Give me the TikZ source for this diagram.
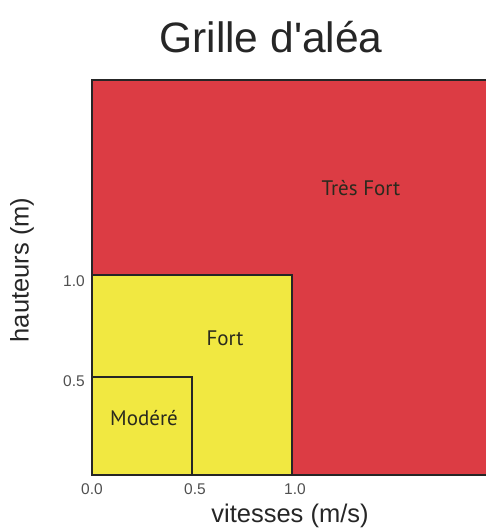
\documentclass[tikz,border=0pt]{standalone}
\usepackage{fontspec}
\setmainfont{Liberation Sans}
\newfontfamily\zonefont{PT Sans}
\definecolor{hazred}{HTML}{DC3C44}
\definecolor{hazyellow}{HTML}{F1E841}
\definecolor{ticktext}{HTML}{505050}
\definecolor{zonetext}{HTML}{2A2A1E}
\begin{document}
\begin{tikzpicture}[x=1pt,y=-1pt,
  zonebox/.style={line width=1.5pt,draw=black!85},
  ticklabel/.style={font=\fontsize{15.5}{15.5}\selectfont,text=ticktext,inner sep=0pt},
  zonelabel/.style={font=\zonefont\fontsize{21}{21}\selectfont,text=zonetext,inner sep=0pt},
  axislabel/.style={font=\fontsize{25.5}{25.5}\selectfont,text=black!85,inner sep=0pt}]
\useasboundingbox (0,0) rectangle (486,532);
% zones
\fill[hazred] (92,80) rectangle (486,475);
\draw[zonebox] (486,80) -- (92,80) -- (92,475) -- (486,475);
\fill[hazyellow] (92,275) rectangle (292,475);
\draw[zonebox] (92,275) rectangle (292,475);
\draw[zonebox] (92,377) rectangle (192,475);
% zone labels
\node[zonelabel] (tresfort) at (361,188) {Très Fort};
\node[zonelabel] (fort) at (225,338) {Fort};
\node[zonelabel] (modere) at (144,418) {Modéré};
% title
\node[font=\fontsize{42.5}{42.5}\selectfont,text=black!85,inner sep=0pt] (title) at (271,37) {Grille d\textquotesingle aléa};
% axis labels
\node[axislabel] (xlabel) at (290,516) {vitesses (m/s)};
\node[axislabel,rotate=90] (ylabel) at (22,270) {hauteurs (m)};
% tick labels
\node[ticklabel] (x00) at (92,489) {0.0};
\node[ticklabel] (x05) at (195,489) {0.5};
\node[ticklabel] (x10) at (295,489) {1.0};
\node[ticklabel] (y10) at (74,281) {1.0};
\node[ticklabel] (y05) at (74,381) {0.5};
\end{tikzpicture}
\end{document}
